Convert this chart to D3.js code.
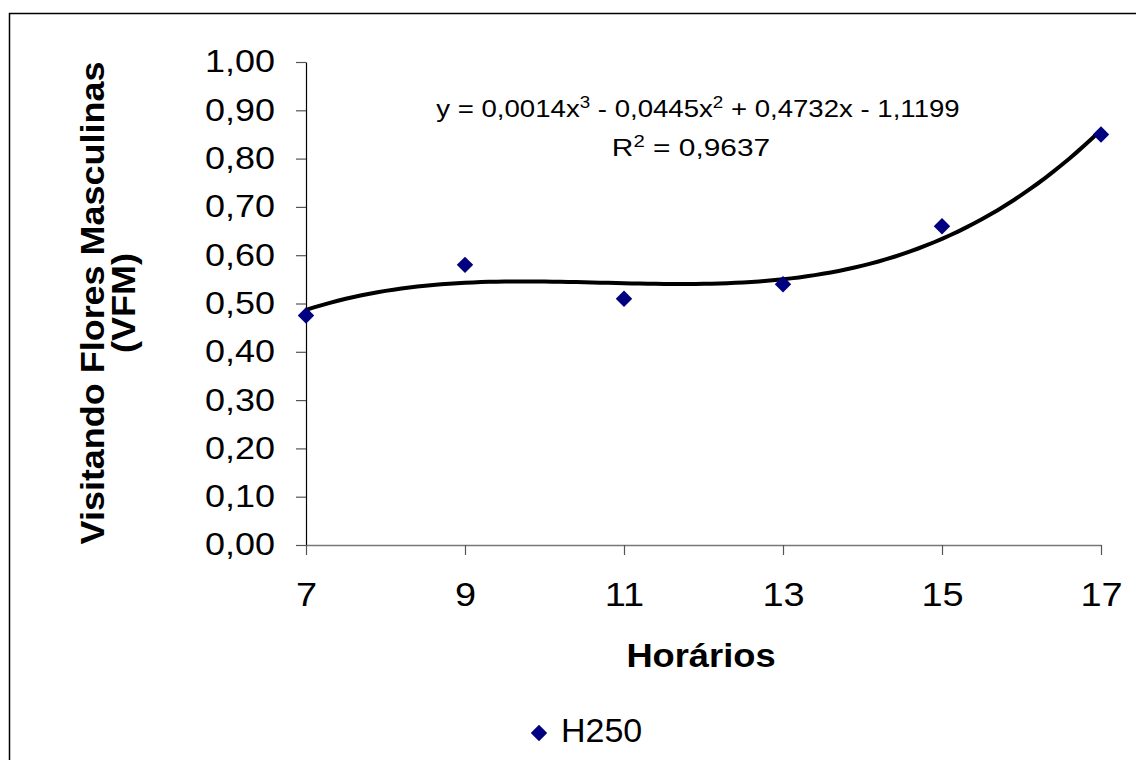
<!DOCTYPE html>
<html><head><meta charset="utf-8">
<script src="https://cdn.jsdelivr.net/npm/d3@7"></script>
<style>body{margin:0;background:#fff} text{font-family:"Liberation Sans",Arial,sans-serif;fill:#000}</style>
</head><body><svg id="c" width="1136" height="760"></svg>
<script>
const hours = [7, 9, 11, 13, 15, 17];
const vfm = [0.475, 0.58, 0.51, 0.54, 0.66, 0.85];
const xTicks = [7, 9, 11, 13, 15, 17];
const yTicks = [0, 0.1, 0.2, 0.3, 0.4, 0.5, 0.6, 0.7, 0.8, 0.9, 1.0];
const seriesName = "H250";
const xTitle = "Horários";
const yTitleLines = ["Visitando Flores Masculinas", "(VFM)"];
const eqParts = [["y = 0,0014x", false], ["3", true], [" - 0,0445x", false], ["2", true], [" + 0,4732x - 1,1199", false]];
const r2Parts = [["R", false], ["2", true], [" = 0,9637", false]];

const svg = d3.select("#c");
const loc = d3.formatLocale({decimal: ",", thousands: ".", grouping: [3], currency: ["", ""]});
const fmt2 = loc.format(".2f");

function stretch(sel, sx) {
  sel.each(function () {
    const t = d3.select(this);
    const tx = +(t.attr("x") || 0), ty = +(t.attr("y") || 0);
    const prev = t.attr("transform") || "";
    t.attr("transform", `${prev} translate(${tx},${ty}) scale(${sx},1) translate(${-tx},${-ty})`);
  });
}

const x = d3.scaleLinear().domain([7, 17]).range([306, 1101]);
const y = d3.scaleLinear().domain([0, 1]).range([545, 62]);

// outer border
svg.append("rect").attr("x", 9.5).attr("y", 13.5).attr("width", 1300).attr("height", 900)
  .attr("fill", "none").attr("stroke", "#000").attr("stroke-width", 1.5);

// y axis
const ya = svg.append("g").attr("transform", "translate(306,0)")
  .call(d3.axisLeft(y).tickValues(yTicks).tickFormat(fmt2).tickSize(10).tickPadding(21).tickSizeOuter(0));
ya.select(".domain").attr("stroke", "#000").attr("stroke-width", 1.2);
ya.selectAll(".tick line").attr("stroke", "#555").attr("stroke-width", 1.2);
ya.selectAll(".tick text").attr("font-size", 31).attr("font-family", "Liberation Sans, Arial, sans-serif").attr("fill", "#000");
stretch(ya.selectAll(".tick text"), 1.16);

// x axis
const xa = svg.append("g").attr("transform", "translate(0,545)")
  .call(d3.axisBottom(x).tickValues(xTicks).tickFormat(d3.format("d")).tickSize(10).tickPadding(28).tickSizeOuter(0));
xa.select(".domain").attr("stroke", "#777").attr("stroke-width", 1.5);
xa.selectAll(".tick line").attr("stroke", "#555").attr("stroke-width", 1.2);
xa.selectAll(".tick text").attr("font-size", 33).attr("font-family", "Liberation Sans, Arial, sans-serif").attr("fill", "#000");
stretch(xa.selectAll(".tick text"), 1.15);

// cubic least squares trendline from data
function cubicFit(xs, ys) {
  const c = 12;
  const n = 4, A = [], b = [];
  for (let i = 0; i < n; i++) { A.push(new Array(n).fill(0)); b.push(0); }
  xs.forEach((xv, k) => {
    const t = xv - c;
    const p = [1, t, t * t, t * t * t];
    for (let i = 0; i < n; i++) { b[i] += p[i] * ys[k]; for (let j = 0; j < n; j++) A[i][j] += p[i] * p[j]; }
  });
  for (let i = 0; i < n; i++) {
    let m = i; for (let r = i + 1; r < n; r++) if (Math.abs(A[r][i]) > Math.abs(A[m][i])) m = r;
    [A[i], A[m]] = [A[m], A[i]]; [b[i], b[m]] = [b[m], b[i]];
    for (let r = i + 1; r < n; r++) { const f = A[r][i] / A[i][i]; for (let j = i; j < n; j++) A[r][j] -= f * A[i][j]; b[r] -= f * b[i]; }
  }
  const co = new Array(n).fill(0);
  for (let i = n - 1; i >= 0; i--) { let s = b[i]; for (let j = i + 1; j < n; j++) s -= A[i][j] * co[j]; co[i] = s / A[i][i]; }
  return xv => { const t = xv - c; return co[0] + co[1] * t + co[2] * t * t + co[3] * t * t * t; };
}
const fit = cubicFit(hours, vfm);
const trend = d3.range(7, 17.0001, 0.1).map(v => [v, fit(v)]);
svg.append("path").datum(trend)
  .attr("d", d3.line().x(d => x(d[0])).y(d => y(d[1])).curve(d3.curveLinear))
  .attr("fill", "none").attr("stroke", "#000").attr("stroke-width", 4).attr("stroke-linejoin", "round");

// points
const diamond = d3.symbol().type(d3.symbolSquare).size(135);
svg.selectAll(".pt").data(hours.map((h, i) => [h, vfm[i]])).join("path")
  .attr("d", diamond).attr("fill", "#000080")
  .attr("transform", d => `translate(${x(d[0])},${y(d[1])}) rotate(45)`);

// equation labels
function richText(parts, cx, by, size, sx) {
  const t = svg.append("text").attr("x", cx).attr("y", by).attr("text-anchor", "middle").attr("font-size", size);
  let up = false;
  parts.forEach(([s, sup]) => {
    const ts = t.append("tspan").text(s);
    if (sup && !up) { ts.attr("dy", -size * 0.4).attr("font-size", size * 0.68); up = true; }
    else if (!sup && up) { ts.attr("dy", size * 0.4); up = false; }
  });
  stretch(t, sx);
  return t;
}
richText(eqParts, 698, 117, 23, 1.2);
richText(r2Parts, 691, 156, 23, 1.3);

// axis titles
const xt = svg.append("text").attr("x", 701).attr("y", 667).attr("text-anchor", "middle")
  .attr("font-size", 33).attr("font-weight", "bold").text(xTitle);
stretch(xt, 1.1);
const yt = svg.append("g").attr("transform", "translate(0,303) rotate(-90)");
yTitleLines.forEach((l, i) => {
  const tt = yt.append("text").attr("x", 0).attr("y", 104 + i * 31).attr("text-anchor", "middle")
    .attr("font-size", 33).attr("font-weight", "bold").text(l);
  stretch(tt, 1.09);
});

// legend
svg.append("path").attr("d", diamond).attr("fill", "#000080").attr("transform", "translate(539,733) rotate(45)");
svg.append("text").attr("x", 561).attr("y", 742).attr("font-size", 34).text(seriesName);
</script></body></html>
